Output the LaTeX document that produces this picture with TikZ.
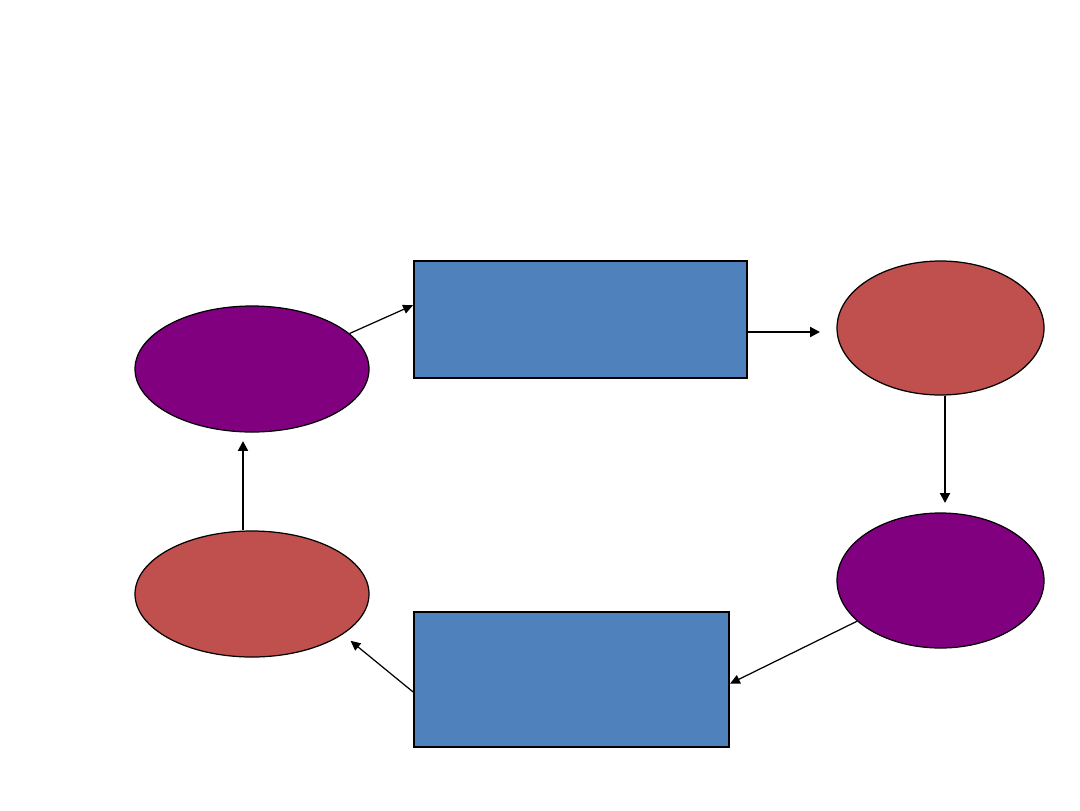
\documentclass[tikz,border=0pt]{standalone}
\usepackage{tikz}
\usetikzlibrary{shapes.geometric,arrows.meta,calc}

\definecolor{cyclepurple}{HTML}{800080}
\definecolor{cyclered}{HTML}{C0504D}
\definecolor{cycleblue}{HTML}{4F81BD}

\begin{document}
\begin{tikzpicture}[
  oval/.style={ellipse, draw, line width=0.35pt, inner sep=0pt},
  stagebox/.style={rectangle, draw, fill=cycleblue, line width=0.6pt, inner sep=0pt},
  thinarrow/.style={-{Triangle[length=2.8pt,width=2.6pt]}, line width=0.35pt},
  boldarrow/.style={-{Triangle[length=2.8pt,width=2.8pt]}, line width=0.6pt}]
  \useasboundingbox (0,0) rectangle (10.8,8.1);

  % the shapes of the cycle
  \node[oval, fill=cyclepurple, minimum width=2.34cm, minimum height=1.26cm] (lt) at (2.52,4.41) {};
  \node[stagebox, minimum width=3.33cm, minimum height=1.17cm] (trect) at (5.805,4.905) {};
  \node[oval, fill=cyclered, minimum width=2.07cm, minimum height=1.34cm] (rt) at (9.405,4.82) {};
  \node[oval, fill=cyclepurple, minimum width=2.07cm, minimum height=1.35cm] (rb) at (9.405,2.295) {};
  \node[stagebox, minimum width=3.15cm, minimum height=1.35cm] (brect) at (5.715,1.305) {};
  \node[oval, fill=cyclered, minimum width=2.34cm, minimum height=1.26cm] (lb) at (2.52,2.16) {};

  % free ends of the arrows
  \coordinate (rtin) at (8.20,4.78);
  \coordinate (rbin) at (9.45,3.07);
  \coordinate (ltin) at (2.43,3.69);

  % arrows
  \draw[thinarrow] (lt.20) -- ($(trect.north west)!0.38!(trect.south west)$);
  \draw[boldarrow] (trect.east |- rtin) -- (rtin);
  \draw[boldarrow] (rbin |- rt.south) -- (rbin);
  \draw[thinarrow] (rb.206) -- ($(brect.north east)!0.53!(brect.south east)$);
  \draw[thinarrow, shorten >=0.1cm] ($(brect.north west)!0.59!(brect.south west)$) -- (lb.336);
  \draw[boldarrow] (ltin |- lb.north) -- (ltin);
\end{tikzpicture}
\end{document}
